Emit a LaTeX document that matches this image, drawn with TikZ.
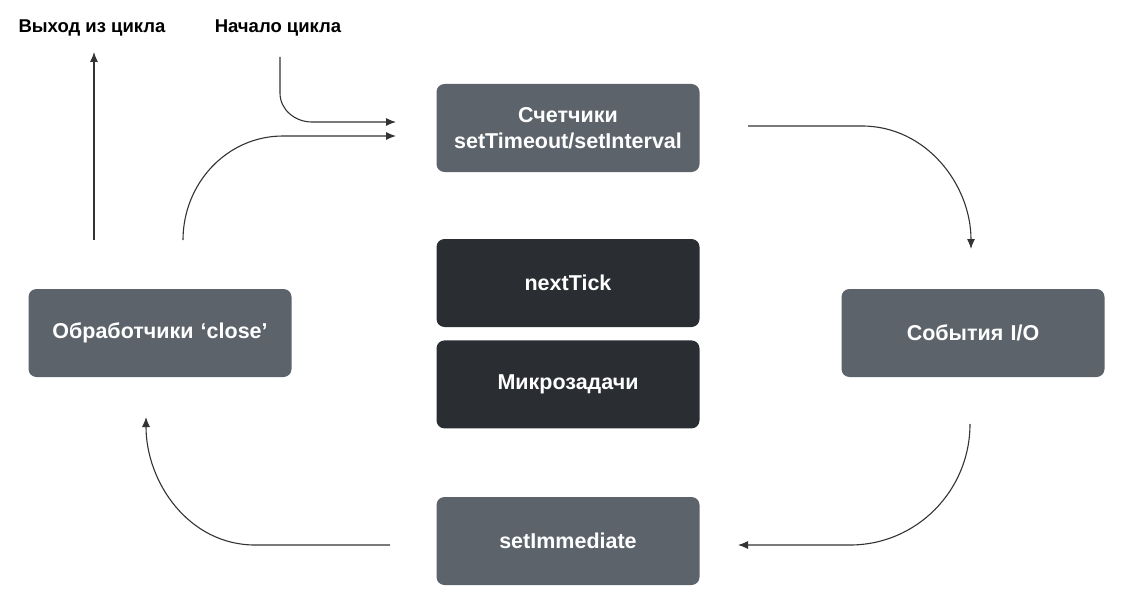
\documentclass[tikz,border=0pt]{standalone}
\usepackage{fontspec}
\setmainfont{Liberation Sans}
\usetikzlibrary{arrows.meta,positioning}
\definecolor{phasegray}{HTML}{5C636B}
\definecolor{queuedark}{HTML}{2A2D31}
\definecolor{linegray}{HTML}{333333}
\tikzset{
  every node/.style={
    font=\bfseries\fontsize{21.5}{26}\selectfont
  },
  phase/.style={
    shape=rectangle,
    rounded corners=8pt,
    minimum width=263pt,
    minimum height=88pt,
    text width=250pt,
    align=center,
    fill=phasegray,
    text=white
  },
  queue/.style={
    phase,
    fill=queuedark
  },
  caption/.style={
    font=\bfseries\fontsize{18.5}{22}\selectfont,
    text=black
  },
  flow/.style={
    draw=linegray,
    line width=1.1pt,
    -{Latex[length=10pt,width=8pt]}
  }
}

\begin{document}
\begin{tikzpicture}[x=1pt,y=-1pt]
    \useasboundingbox (0,0) rectangle (1144,602);
    % loop phases
    \node [phase] (timers) at (568,128) { Счетчики\\setTimeout/setInterval };
    \node [phase] (io) at (973,333) { События I/O };
    \node [phase] (immediate) at (568,541) { setImmediate };
    \node [phase] (close) at (160,333) { Обработчики ‘close’ };
    % queues in the middle
    \node [queue] (nexttick) at (568,283) { nextTick };
    \node [queue, below=13pt of nexttick] (micro) { Микрозадачи };
    % captions
    \node [caption] (exitlabel) at (92,28) { Выход из цикла };
    \node [caption] (startlabel) at (278,28) { Начало цикла };
    % free ends of the connectors
    \coordinate (exitfrom) at (94,240);
    \coordinate (exitto) at (94,52);
    \coordinate (startfrom) at (280,57);
    \coordinate (startto) at (396,122);
    \coordinate (backfrom) at (183,240);
    \coordinate (backto) at (396,136);
    \coordinate (timersout) at (748,126);
    \coordinate (ioin) at (971,249);
    \coordinate (ioout) at (970,424);
    \coordinate (immin) at (738,545);
    \coordinate (immout) at (390,545);
    \coordinate (closein) at (146,417);
    % connectors
    \draw [flow] (exitfrom) -- (exitto);
    \draw [flow] (startfrom) -- (startfrom |- 0,93) to[out=-90,in=180] (312,122) -- (startto);
    \draw [flow] (backfrom) to[out=90,in=180] (283,136) -- (backto);
    \draw [flow] (timersout) -- (862,126) to[out=0,in=90] (ioin);
    \draw [flow] (ioout) to[out=-90,in=0] (850,545) -- (immin);
    \draw [flow] (immout) -- (255,545) to[out=180,in=-90] (closein);
  \end{tikzpicture}
\end{document}
